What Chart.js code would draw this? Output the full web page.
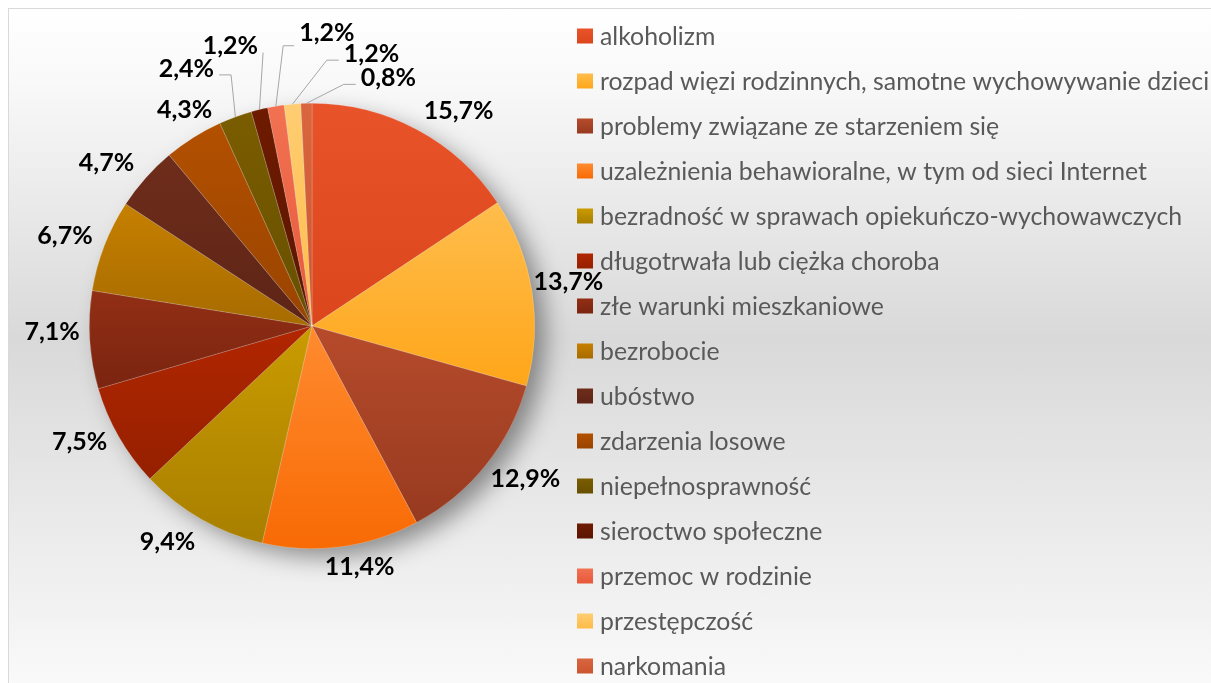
<!DOCTYPE html>
<html lang="pl">
<head>
<meta charset="utf-8">
<title>Przyczyny korzystania z pomocy</title>
<script src="https://cdn.jsdelivr.net/npm/chart.js@4.4.1/dist/chart.umd.min.js"></script>
<style>
  html, body { margin: 0; padding: 0; overflow: hidden; background: #fff; }
  .frame {
    position: absolute; left: 8px; top: 8px; width: 1230px; height: 700px;
    border: 1.5px solid #d9d9d9;
    background: linear-gradient(to bottom, #ffffff 0%, #f9f9f9 10%, #d9d9d9 47%, #f1f1f1 84%, #fcfcfc 100%);
  }
  .chart-box { position: absolute; left: 0; top: 0; width: 1211px; height: 683px; }
</style>
</head>
<body>
<div class="frame"></div>
<div class="chart-box"><canvas id="pieChart"></canvas></div>
<script>
const categories = [
    'alkoholizm',
    'rozpad więzi rodzinnych, samotne wychowywanie dzieci',
    'problemy związane ze starzeniem się',
    'uzależnienia behawioralne, w tym od sieci Internet',
    'bezradność w sprawach opiekuńczo-wychowawczych',
    'długotrwała lub ciężka choroba',
    'złe warunki mieszkaniowe',
    'bezrobocie',
    'ubóstwo',
    'zdarzenia losowe',
    'niepełnosprawność',
    'sieroctwo społeczne',
    'przemoc w rodzinie',
    'przestępczość',
    'narkomania'
];
const shares = [15.7, 13.7, 12.9, 11.4, 9.4, 7.5, 7.1, 6.7, 4.7, 4.3, 2.4, 1.2, 1.2, 1.2, 0.8];

// each slice is shaded from a lighter top to a darker bottom
const colorTop = [
    '#e8532a', '#ffbd4c', '#b64b2b', '#ff8b30', '#ca9b00',
    '#b12600', '#922f15', '#c68000', '#6f2d1b', '#b35000',
    '#7b5d00', '#6e1b00', '#f17252', '#ffcd72', '#d9663f'
];
const colorBottom = [
    '#dc461c', '#ffa61a', '#973a20', '#f86a04', '#a87f00',
    '#952000', '#7a2410', '#a76b00', '#5d2416', '#994400',
    '#674f00', '#5c1500', '#e7583a', '#ffbb46', '#cb5530'
];

// nudges (px) from the default outside-end label spot, to sit where Excel put them
const labelNudge = [[22, -6], [-4, -7], [8, 4], [13, 5], [-17, 10], [-10, -2], [-4, -9], [-8, -4], [-14, -5], [9, -15]];
// thin slices get a callout: label offset from the slice edge, elbow length, line drop
const callouts = {
    10: [-49, -48, 12, 6],
    11: [-29, -64, 0, 7],
    12: [51, -73.5, 11, 13],
    13: [79, -50, 12, 6],
    14: [82, -25, 12, 6]
};

const legendX = 577;
const legendTop = 36;
const legendStep = 45;
const legendFont = '24.8px Lato';
const valueFont = 'bold 25px Lato';

function fmt(v) {
    return v.toFixed(1).replace('.', ',') + '%';
}

// vertical extent of slice i, worked out from the data and the chart area
function sliceExtent(i, area) {
    const total = shares.reduce((a, b) => a + b, 0);
    const before = shares.slice(0, i).reduce((a, b) => a + b, 0);
    const a0 = -Math.PI / 2 + before / total * 2 * Math.PI;
    const a1 = a0 + shares[i] / total * 2 * Math.PI;
    const cy = (area.top + area.bottom) / 2;
    const r = Math.min(area.width, area.height) / 2;
    const ys = [cy, cy + r * Math.sin(a0), cy + r * Math.sin(a1)];
    [Math.PI / 2, 3 * Math.PI / 2].forEach(t => {
        if (t > a0 && t < a1) ys.push(cy + r * Math.sin(t));
    });
    return [Math.min(...ys), Math.max(...ys)];
}

// soft drop shadow under the whole pie
const pieShadow = {
    id: 'pieShadow',
    beforeDatasetsDraw(chart) {
        const arc = chart.getDatasetMeta(0).data[0];
        if (!arc) return;
        const ctx = chart.ctx;
        ctx.save();
        ctx.shadowColor = 'rgba(0, 0, 0, 0.42)';
        ctx.shadowBlur = 24;
        ctx.shadowOffsetX = 12;
        ctx.shadowOffsetY = 10;
        ctx.fillStyle = '#aaa';
        ctx.beginPath();
        ctx.arc(arc.x, arc.y, arc.outerRadius - 2, 0, Math.PI * 2);
        ctx.fill();
        ctx.restore();
    }
};

const valueLabels = {
    id: 'valueLabels',
    afterDatasetsDraw(chart) {
        const ctx = chart.ctx;
        const arcs = chart.getDatasetMeta(0).data;
        ctx.save();
        ctx.font = valueFont;
        ctx.fillStyle = '#000';
        ctx.textAlign = 'center';
        ctx.textBaseline = 'middle';
        arcs.forEach((arc, i) => {
            const p = arc.getProps(['x', 'y', 'startAngle', 'endAngle', 'outerRadius']);
            const mid = (p.startAngle + p.endAngle) / 2;
            const c = Math.cos(mid), s = Math.sin(mid);
            const text = fmt(shares[i]);
            const w = ctx.measureText(text).width;
            let lx, ly;
            if (callouts[i]) {
                const [dx, dy, elbow, drop] = callouts[i];
                const ex = p.x + c * p.outerRadius, ey = p.y + s * p.outerRadius;
                lx = ex + dx;
                ly = ey + dy;
                const side = lx < ex ? 1 : -1;
                const endX = lx + side * (w / 2 + 5);
                ctx.strokeStyle = '#a6a6a6';
                ctx.lineWidth = 1;
                ctx.beginPath();
                ctx.moveTo(endX, ly + drop);
                ctx.lineTo(endX + side * elbow, ly + drop);
                ctx.lineTo(ex, ey);
                ctx.stroke();
            } else {
                const r = p.outerRadius + 6;
                lx = p.x + c * r + c * w / 2 + labelNudge[i][0];
                ly = p.y + s * r + s * 9 + labelNudge[i][1];
            }
            ctx.fillText(text, lx, ly);
        });
        ctx.restore();
    }
};

// one-column legend on the right, one row per category
const sideLegend = {
    id: 'sideLegend',
    afterDraw(chart) {
        const ctx = chart.ctx;
        ctx.save();
        ctx.font = legendFont;
        ctx.textBaseline = 'middle';
        ctx.textAlign = 'left';
        categories.forEach((name, i) => {
            const y = legendTop + i * legendStep;
            const g = ctx.createLinearGradient(0, y - 7.5, 0, y + 7.5);
            g.addColorStop(0, colorTop[i]);
            g.addColorStop(1, colorBottom[i]);
            ctx.fillStyle = g;
            ctx.fillRect(legendX, y - 7.5, 16, 15);
            ctx.fillStyle = '#595959';
            ctx.fillText(name, legendX + 23, y + 1);
        });
        ctx.restore();
    }
};

function initChart() {
    const ctx = document.getElementById('pieChart').getContext('2d');
    new Chart(ctx, {
        type: 'pie',
        data: {
            labels: categories,
            datasets: [{
                data: shares,
                backgroundColor: function(context) {
                    const i = context.dataIndex || 0;
                    const area = context.chart.chartArea;
                    if (!area) return colorTop[i];
                    const [y0, y1] = sliceExtent(i, area);
                    const g = context.chart.ctx.createLinearGradient(0, y0, 0, y1);
                    g.addColorStop(0, colorTop[i]);
                    g.addColorStop(1, colorBottom[i]);
                    return g;
                },
                borderColor: 'rgba(255, 255, 255, 0.3)',
                borderWidth: 0.6,
                hoverOffset: 0
            }]
        },
        options: {
            responsive: true,
            maintainAspectRatio: false,
            animation: false,
            events: [],
            layout: {
                padding: { left: 89, top: 103, right: 676, bottom: 134 }
            },
            plugins: {
                legend: { display: false },
                tooltip: { enabled: false }
            }
        },
        plugins: [pieShadow, valueLabels, sideLegend]
    });
}

Promise.all([
    document.fonts.load(legendFont),
    document.fonts.load(valueFont)
]).then(initChart, initChart);
</script>
</body>
</html>
